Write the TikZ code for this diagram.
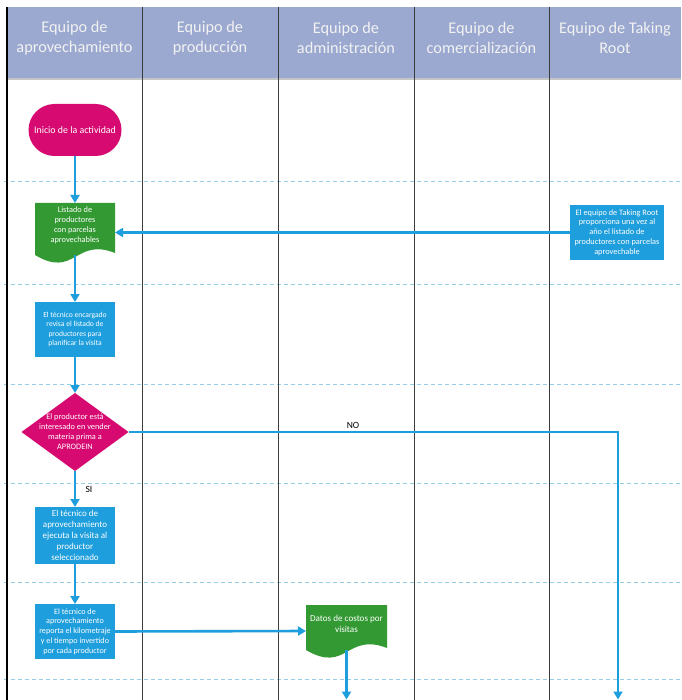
\documentclass[tikz,border=0pt]{standalone}
\usepackage{fontspec}
\setmainfont{Carlito}
\usetikzlibrary{arrows.meta,calc}
\definecolor{hdr}{RGB}{155,169,208}
\definecolor{hdrtxt}{RGB}{242,242,242}
\definecolor{mag}{RGB}{214,10,112}
\definecolor{grn}{RGB}{51,153,51}
\definecolor{blu}{RGB}{30,158,220}
\definecolor{rowline}{RGB}{150,205,230}
\definecolor{lane}{RGB}{60,60,60}
\begin{document}
\begin{tikzpicture}[x=1pt,y=-1pt,
  hdrtext/.style={text=hdrtxt, align=center, font=\fontsize{16.3}{19.5}\selectfont},
  lanesep/.style={draw=lane, line width=1pt},
  rowsep/.style={draw=rowline, line width=0.9pt, dash pattern=on 4pt off 3pt},
  flow/.style={draw=blu, line width=2.6pt, -{Triangle[width=9pt,length=8pt]}},
  procbox/.style={fill=blu, text=white, align=center, minimum width=80pt, minimum height=55pt, inner sep=1pt, outer sep=0pt},
  startbox/.style={fill=mag, text=white, rounded corners=26pt, minimum width=93pt, minimum height=52pt, inner sep=1pt, outer sep=0pt, font=\fontsize{9.9}{12}\selectfont},
  decbox/.style={minimum width=107pt, minimum height=78pt, inner sep=0pt, outer sep=0pt, text=white, align=center,
    path picture={\fill[mag] (path picture bounding box.north) -- (path picture bounding box.east) -- (path picture bounding box.south) -- (path picture bounding box.west) -- cycle;}},
  docbox/.style={inner sep=1pt, outer sep=0pt, text=white, align=center,
    path picture={\fill[grn] (path picture bounding box.north west) -- (path picture bounding box.north east) -- ([yshift=9pt]path picture bounding box.south east) .. controls ($(path picture bounding box.south)+(0pt,25pt)$) and ($(path picture bounding box.south)+(0pt,-17pt)$) .. ([yshift=7pt]path picture bounding box.south west) -- cycle;}},
  lbl/.style={text=black, font=\fontsize{9.5}{11}\selectfont, inner sep=1pt}
]
\useasboundingbox (0,0) rectangle (681,700);
% header
\fill[hdr] (7,7) rectangle (681,78);
\draw[gray!45, line width=2pt] (7,79) -- (681,79);
% row separators
\foreach \yy in {181,284,384,483,582,679}
  \draw[rowsep] (4,\yy) -- (681,\yy);
% lane separators
\foreach \xx in {142,278,414,549}
  \draw[lanesep] (\xx,7) -- (\xx,700);
\draw[black, line width=2pt] (7,7) -- (7,700);
% header texts
\node[hdrtext] (h1) at (74.5,38) {Equipo de\\aprovechamiento};
\node[hdrtext] (h2) at (210,38) {Equipo de\\producción};
\node[hdrtext] (h3) at (346,38) {Equipo de\\administración};
\node[hdrtext] (h4) at (481.5,38) {Equipo de\\comercialización};
\node[hdrtext] (h5) at (615,38) {Equipo de Taking\\Root};
% nodes
\node[startbox] (start) at (75,130) {Inicio de la actividad};
\node[docbox, minimum width=80pt, minimum height=59pt, text depth=16pt, font=\fontsize{8.3}{10}\selectfont] (doc1) at (75,232.5) {Listado de\\productores\\con parcelas\\aprovechables};
\node[procbox, minimum width=94pt, font=\fontsize{8.3}{9.75}\selectfont] (tr) at (617,232.5) {El equipo de Taking Root\\proporciona una vez al\\año el listado de\\productores con parcelas\\aprovechable};
\node[procbox, font=\fontsize{7.6}{9.5}\selectfont] (box2) at (75,329.5) {El técnico encargado\\revisa el listado de\\productores para\\planificar la visita};
\node[decbox, font=\fontsize{8.3}{10}\selectfont] (dec) at (75,432) {El productor está\\interesado en vender\\materia prima a\\APRODEIN};
\node[procbox, minimum height=57pt, font=\fontsize{9}{11}\selectfont] (box3) at (75,535.5) {El técnico de\\aprovechamiento\\ejecuta la visita al\\productor\\seleccionado};
\node[procbox, font=\fontsize{8.1}{9.8}\selectfont] (box4) at (75,631.5) {El técnico de\\aprovechamiento\\reporta el kilometraje\\y el tiempo invertido\\por cada productor};
\node[docbox, minimum width=81pt, minimum height=52pt, text depth=14pt, font=\fontsize{9.1}{11.3}\selectfont] (doc2) at (346.5,631) {Datos de costos por\\visitas};
\node[lbl] (no) at (353,425) {NO};
\node[lbl] (si) at (89,489) {SI};
\coordinate (endA) at (346.5,699.5);
\coordinate (endB) at (618,699.5);
% connectors
\draw[flow] (start.south) -- (doc1.north);
\draw[flow] (tr.west) -- (doc1.east);
\draw[flow] ([yshift=7pt]doc1.south) -- (box2.north);
\draw[flow] (box2.south) -- (dec.north);
\draw[flow] (dec.south) -- (box3.north);
\draw[flow] (box3.south) -- (box4.north);
\draw[flow] (box4.east) -- (doc2.west);
\draw[flow] ([yshift=7pt]doc2.south) -- (endA);
\draw[flow] (dec.east) -| (endB);
\end{tikzpicture}
\end{document}
